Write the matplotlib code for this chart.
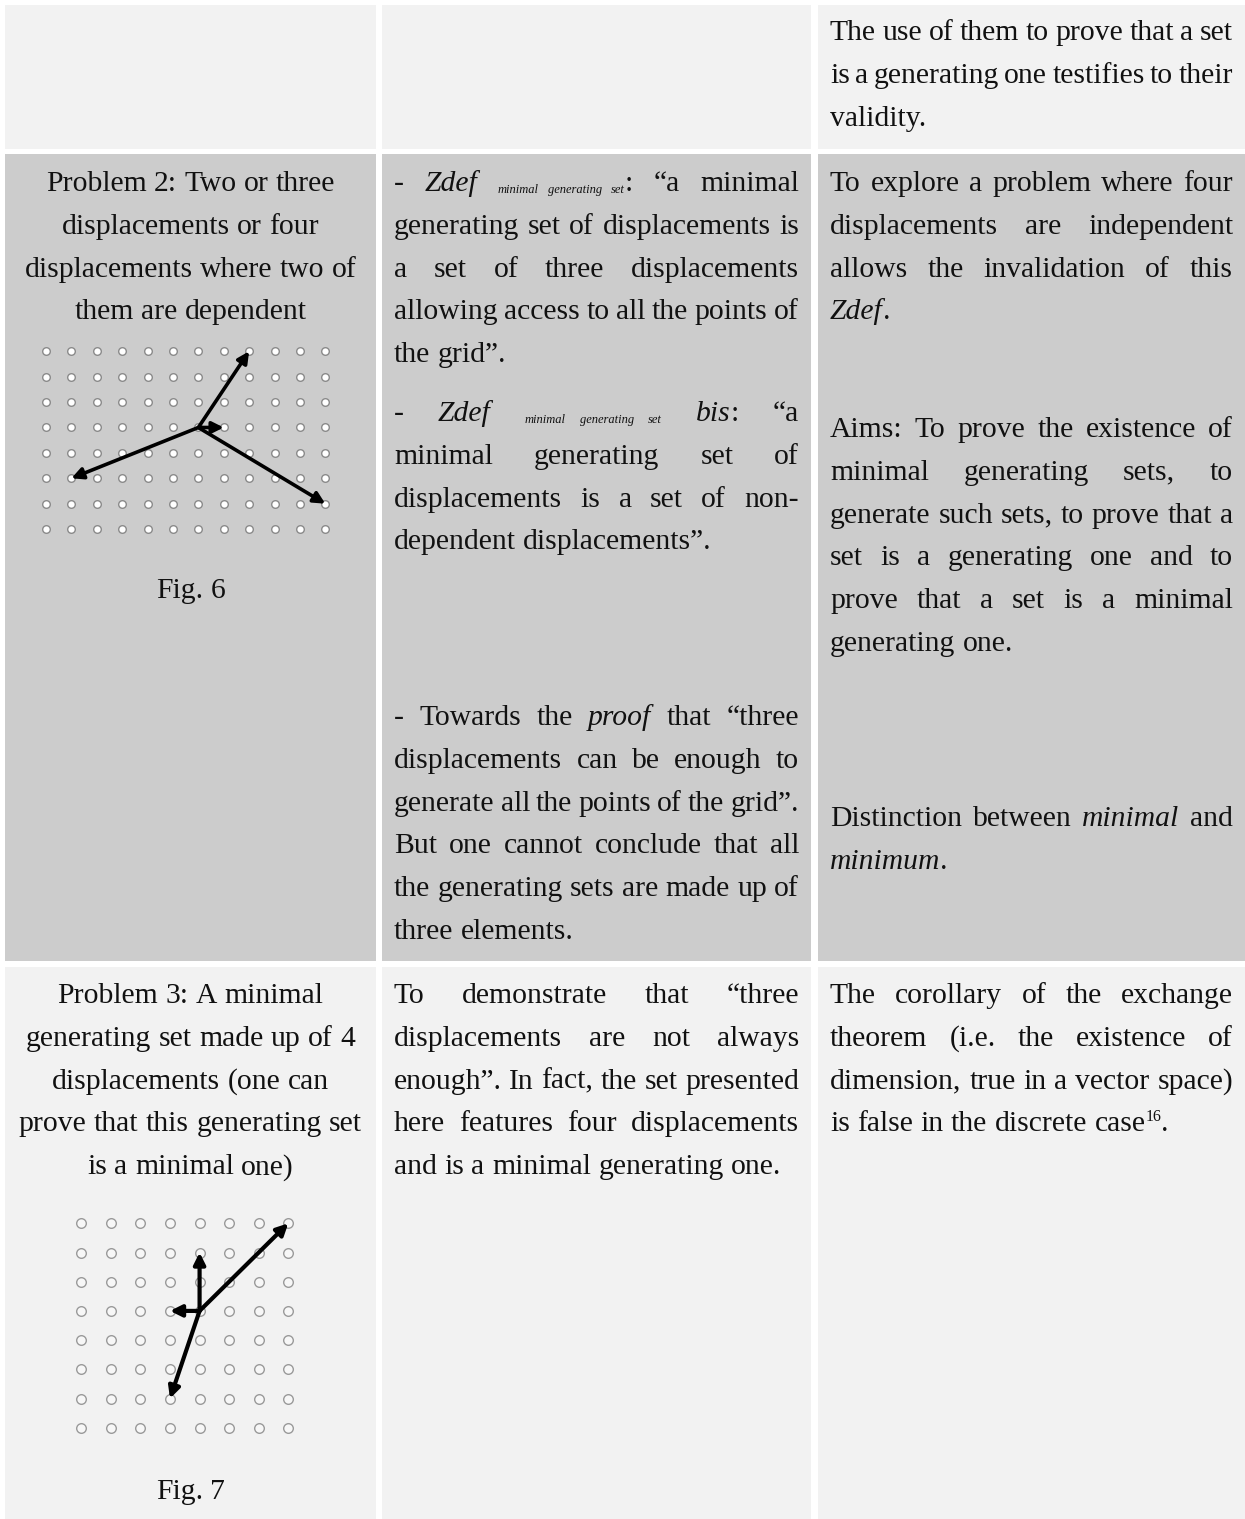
import matplotlib
matplotlib.use('Agg')
import matplotlib.pyplot as plt
import numpy as np
from matplotlib.patches import Rectangle

W, H = 1245, 1519
SERIF = 'Liberation Serif'
FS = 21.3      # body text, pt
SMALL = 9.0    # italic subscript after "Zdef"
SUP = 11.5     # footnote mark
LEAD = 42.8    # line spacing in px
INK = '#111111'

# table layout
col_edges = [(5, 376), (382, 811), (818, 1245)]
row_edges = [(5, 149), (154, 961), (967, 1519)]
row_colors = ['#f2f2f2', '#cccccc', '#f2f2f2']

# cell texts: *italic*, _small italic_, ^superscript^
r1c3 = ["The use of them to prove that a set",
        "is a generating one testifies to their",
        "validity."]

r2c1 = ["Problem 2: Two or three",
        "displacements or four",
        "displacements where two of",
        "them are dependent"]
r2c2_a = ["- *Zdef* _minimal generating set_: “a minimal",
          "generating set of displacements is",
          "a set of three displacements",
          "allowing access to all the points of",
          "the grid”."]
r2c2_b = ["- *Zdef* _minimal generating set_ *bis*: “a",
          "minimal generating set of",
          "displacements is a set of non-",
          "dependent displacements”."]
r2c2_c = ["- Towards the *proof* that “three",
          "displacements can be enough to",
          "generate all the points of the grid”.",
          "But one cannot conclude that all",
          "the generating sets are made up of",
          "three elements."]
r2c3_a = ["To explore a problem where four",
          "displacements are independent",
          "allows the invalidation of this",
          "*Zdef*."]
r2c3_b = ["Aims: To prove the existence of",
          "minimal generating sets, to",
          "generate such sets, to prove that a",
          "set is a generating one and to",
          "prove that a set is a minimal",
          "generating one."]
r2c3_c = ["Distinction between *minimal* and",
          "*minimum*."]

r3c1 = ["Problem 3: A minimal",
        "generating set made up of 4",
        "displacements (one can",
        "prove that this generating set",
        "is a minimal one)"]
r3c2 = ["To demonstrate that “three",
        "displacements are not always",
        "enough”. In fact, the set presented",
        "here features four displacements",
        "and is a minimal generating one."]
r3c3 = ["The corollary of the exchange",
        "theorem (i.e. the existence of",
        "dimension, true in a vector space)",
        "is false in the discrete case^16^."]

# lattice figures: grid size, start point (col, row from bottom), displacements
fig6_cols, fig6_rows = 12, 8
fig6_start = (6, 4)
fig6_moves = [(2, 3), (1, 0), (-5, -2), (5, -3)]

fig7_cols, fig7_rows = 8, 8
fig7_start = (4, 4)
fig7_moves = [(0, 2), (-1, 0), (3, 3), (-1, -3)]

fig = plt.figure(figsize=(W / 100, H / 100), dpi=100)
fig.patch.set_facecolor('white')
ax = fig.add_axes([0, 0, 1, 1])
ax.set_xlim(0, W)
ax.set_ylim(H, 0)
ax.set_axis_off()

for (y0, y1), c in zip(row_edges, row_colors):
    for x0, x1 in col_edges:
        ax.add_patch(Rectangle((x0, y0), x1 - x0, y1 - y0, facecolor=c, edgecolor='none'))

renderer = fig.canvas.get_renderer()

STYLES = {'r': (FS, 'normal', 0), 'i': (FS, 'italic', 0),
          's': (SMALL, 'italic', 2), 'u': (SUP, 'normal', -10)}


def measure(s, st):
    size, fst, _ = STYLES[st]
    t = ax.text(0, 0, s, family=SERIF, fontsize=size, fontstyle=fst)
    w = t.get_window_extent(renderer).width
    t.remove()
    return w


space_w = {st: measure('a a', st) - measure('aa', st) for st in STYLES}


def parse(line):
    on = {'*': False, '_': False, '^': False}
    words, gaps = [[]], []
    for ch in line:
        if ch in on:
            on[ch] = not on[ch]
            continue
        st = 's' if on['_'] else 'u' if on['^'] else 'i' if on['*'] else 'r'
        if ch == ' ':
            words.append([])
            gaps.append(st)
            continue
        if words[-1] and words[-1][-1][1] == st:
            words[-1][-1][0] += ch
        else:
            words[-1].append([ch, st])
    return words, gaps


def draw_line(line, left, right, y, mode):
    words, gaps = parse(line)
    ww = [sum(measure(s, st) for s, st in w) for w in words]
    gw = [space_w[g] for g in gaps]
    if mode == 'j' and gaps:
        # stretch each space in proportion to its natural width
        k = (right - left - sum(ww)) / sum(gw)
        gw = [g * k for g in gw]
    total = sum(ww) + sum(gw)
    x = left if mode in ('j', 'l') else (left + right) / 2 - total / 2
    for i, w in enumerate(words):
        for s, st in w:
            size, fst, dy = STYLES[st]
            ax.text(x, y + dy, s, family=SERIF, fontsize=size, fontstyle=fst,
                    color=INK, ha='left', va='baseline')
            x += measure(s, st)
        if i < len(gaps):
            x += gw[i]


def paragraph(lines, col, y, mode):
    x0, x1 = col_edges[col]
    left, right = x0 + 12, x1 - 12
    for k, line in enumerate(lines):
        m = mode
        if mode == 'j' and k == len(lines) - 1:
            m = 'l'
        draw_line(line, left, right, y + k * LEAD, m)


paragraph(r1c3, 2, 40, 'j')

paragraph(r2c1, 0, 191, 'c')
paragraph(["Fig. 6"], 0, 598, 'c')
paragraph(r2c2_a, 1, 191, 'j')
paragraph(r2c2_b, 1, 421, 'j')
paragraph(r2c2_c, 1, 725, 'j')
paragraph(r2c3_a, 2, 191, 'j')
paragraph(r2c3_b, 2, 437, 'j')
paragraph(r2c3_c, 2, 826, 'j')

paragraph(r3c1, 0, 1003, 'c')
paragraph(["Fig. 7"], 0, 1499, 'c')
paragraph(r3c2, 1, 1003, 'j')
paragraph(r3c3, 2, 1003, 'j')


def lattice(x_first, y_top, step_x, step_y, ncols, nrows, start, moves,
            dot_size, dot_face, dot_edge, lw):
    left = x_first - step_x / 2
    top = y_top - step_y / 2
    w, h = ncols * step_x, nrows * step_y
    a = fig.add_axes([left / W, 1 - (top + h) / H, w / W, h / H])
    a.set_xlim(-0.5, ncols - 0.5)
    a.set_ylim(-0.5, nrows - 0.5)
    a.set_axis_off()
    gx, gy = np.meshgrid(np.arange(ncols), np.arange(nrows))
    a.scatter(gx.ravel(), gy.ravel(), s=dot_size, facecolor=dot_face,
              edgecolor=dot_edge, linewidth=1.0, zorder=1, clip_on=False)
    for dx, dy in moves:
        a.annotate('', xy=(start[0] + dx, start[1] + dy), xytext=start,
                   arrowprops=dict(arrowstyle='-|>', color='black', lw=lw,
                                   mutation_scale=17, shrinkA=0, shrinkB=0),
                   zorder=3, annotation_clip=False)


lattice(46, 351.3, 25.39, 25.4, fig6_cols, fig6_rows, fig6_start, fig6_moves,
        30, 'white', '#8a8a8a', 2.6)
lattice(81.3, 1223.3, 29.57, 29.2, fig7_cols, fig7_rows, fig7_start, fig7_moves,
        48, '#f7f7f7', '#9a9a9a', 3.0)

fig.savefig('out.png', dpi=100, facecolor='white')
